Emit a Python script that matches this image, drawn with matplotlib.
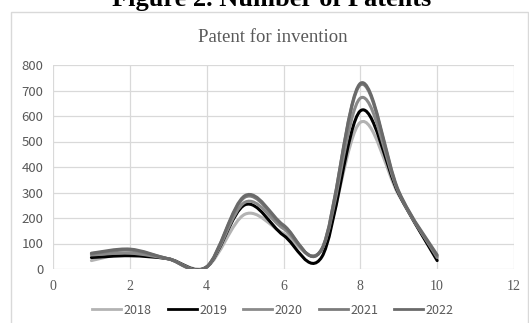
import numpy as np
import matplotlib.pyplot as plt
from matplotlib.path import Path
from matplotlib.patches import PathPatch, Rectangle
from matplotlib.lines import Line2D

years = ['2018', '2019', '2020', '2021', '2022']
x = [1, 2, 3, 4, 5, 6, 7, 8, 9, 10]
v2018 = [33, 62, 40, 8, 215, 140, 75, 575, 290, 40]
v2019 = [45, 52, 40, 8, 252, 132, 48, 620, 295, 33]
v2020 = [55, 62, 40, 8, 262, 158, 78, 670, 300, 45]
v2021 = [60, 74, 40, 8, 282, 168, 80, 722, 300, 50]
v2022 = [62, 78, 40, 8, 288, 172, 78, 728, 305, 55]
series = [v2018, v2019, v2020, v2021, v2022]
colors = ['#b3b3b3', '#000000', '#8a8a8a', '#7b7b7b', '#6a6a6a']

xticks = [0, 2, 4, 6, 8, 10, 12]
yticks = [0, 100, 200, 300, 400, 500, 600, 700, 800]


def smooth_path(xs, ys):
    # Excel-style smoothed line: Catmull-Rom segments as cubic Beziers
    p = np.column_stack([xs, ys]).astype(float)
    ext = np.vstack([p[0], p, p[-1]])
    verts = [p[0]]
    codes = [Path.MOVETO]
    for i in range(1, len(ext) - 2):
        c1 = ext[i] + (ext[i + 1] - ext[i - 1]) / 6
        c2 = ext[i + 1] - (ext[i + 2] - ext[i]) / 6
        verts += [c1, c2, ext[i + 1]]
        codes += [Path.CURVE4] * 3
    return Path(verts, codes)


fig = plt.figure(figsize=(5.29, 3.23), dpi=100)
W, H = 529, 323

# outer chart frame
fig.patches.append(Rectangle((11 / W, -0.05), (W - 12) / W, 1.05 - 12 / H,
                             transform=fig.transFigure, fill=False,
                             edgecolor='#d9d9d9', linewidth=1.0))

fig.text(272 / W, 1 - 6 / H, 'Figure 2. Number of Patents', ha='center',
         va='baseline', fontsize=19, fontweight='bold',
         family='Liberation Serif', color='black')
fig.text(273 / W, 1 - 38 / H, 'Patent for invention', ha='center',
         va='center', fontsize=13.5, family='Liberation Serif', color='#595959')

ax = fig.add_axes([53 / W, 1 - 269 / H, (514 - 53) / W, (269 - 65) / H])
ax.set_xlim(0, 12)
ax.set_ylim(0, 800)
ax.set_xticks(xticks)
ax.set_yticks(yticks)
ax.grid(True, color='#d9d9d9', linewidth=0.9)
ax.set_axisbelow(True)
for s in ax.spines.values():
    s.set_visible(False)
ax.tick_params(length=0)
ax.tick_params(axis='y', pad=7, labelcolor='#595959', labelsize=9.5)
ax.tick_params(axis='x', pad=8, labelcolor='#595959', labelsize=10)
for lab in ax.get_yticklabels():
    lab.set_family('Noto Sans CJK SC')
for lab in ax.get_xticklabels():
    lab.set_family('Liberation Serif')

for vals, c in zip(series, colors):
    ax.add_patch(PathPatch(smooth_path(x, vals), facecolor='none',
                           edgecolor=c, linewidth=2.2, capstyle='round',
                           joinstyle='round'))

handles = [Line2D([], [], color=c, linewidth=2.0) for c in colors]
leg = fig.legend(handles, years, loc='center', ncol=5,
                 bbox_to_anchor=(273 / W, 1 - 310 / H), frameon=False,
                 handlelength=2.3, handletextpad=0.2, columnspacing=1.3,
                 prop={'family': 'Noto Sans CJK SC', 'size': 9})
for t in leg.get_texts():
    t.set_color('#595959')

fig.savefig('out.png', dpi=100)
